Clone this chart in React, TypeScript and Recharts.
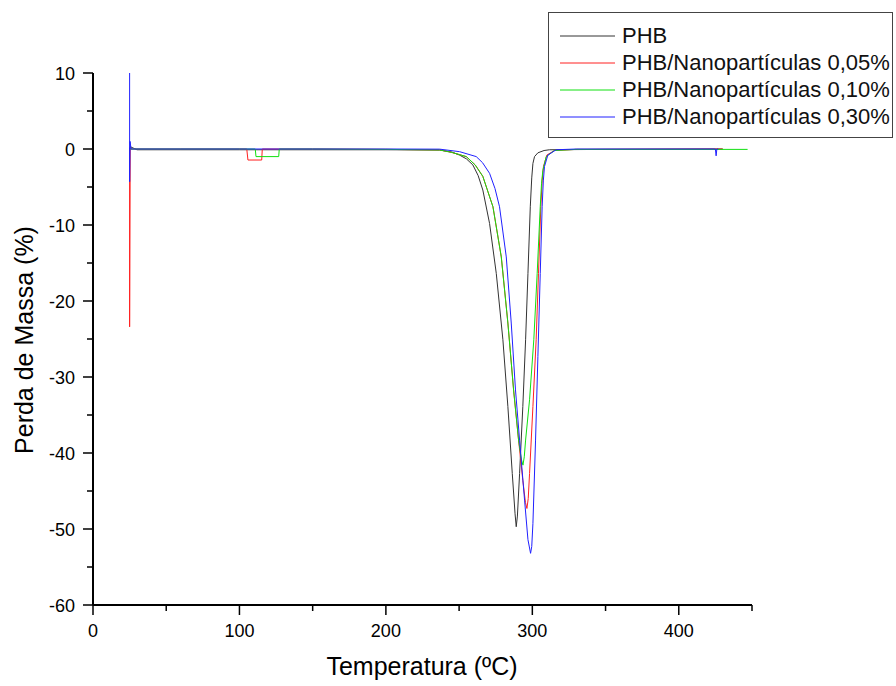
import React from 'react';
import { LineChart, Line, XAxis, YAxis, Legend } from 'recharts';

// temperatura (ºC) / perda de massa (%)
const phbT = [25, 25.5, 30, 60, 100, 150, 200, 236.7, 245, 250.3, 255, 259.4, 263, 266.2, 270.8, 275.4, 279.9, 283.3, 286.3, 288.2, 289, 289.8, 291.3, 293.5, 295.4, 297, 298.6, 299.6, 300.4, 301.5, 303.8, 308, 311.7, 350, 430];
const phbM = [0, 0.3, -0.1, -0.1, -0.1, -0.1, -0.1, -0.13, -0.4, -0.8, -1.3, -2.1, -3.5, -5.4, -9.8, -16.4, -25.1, -33.9, -42.7, -48, -49.7, -48.3, -42.7, -33.9, -25.1, -16.4, -7.6, -3.8, -1.9, -1.0, -0.5, -0.2, -0.1, -0.05, 0];

const np005T = [25, 25, 25.4, 60, 105, 105.8, 115.2, 115.6, 150, 200, 236.7, 245, 254.9, 261, 266.2, 273.1, 278.8, 283.3, 287.2, 290.6, 293.5, 295.3, 296.3, 297.2, 298.1, 300.4, 302.6, 304.2, 305.8, 306.7, 307.6, 309.9, 315.1, 330, 430];
const np005M = [0, -23.4, 0, 0, 0, -1.45, -1.45, 0, 0, -0.05, -0.13, -0.45, -1.0, -2.1, -3.6, -7.6, -14.2, -22.9, -31.7, -38.3, -43.6, -46.5, -47.3, -46, -42.7, -33.9, -25.1, -16.4, -7.6, -4.2, -2.3, -0.8, -0.2, -0.05, 0];

const np010T = [25, 60, 110.8, 111.3, 126.8, 127.2, 150, 200, 236.7, 245, 254.9, 261, 266.2, 273.1, 278.8, 283.3, 287.2, 290.6, 292.5, 293.6, 294.5, 295.4, 298.1, 301, 303.3, 305.4, 306.3, 307.2, 309.5, 315, 330, 447];
const np010M = [0, 0, 0, -1.0, -1.0, 0, 0, -0.05, -0.13, -0.45, -1.0, -2.1, -3.6, -7.6, -14.2, -22.9, -31.7, -38.3, -40.8, -41.6, -40.5, -38.3, -33, -25.1, -16.4, -7.6, -4.5, -2.8, -1.0, -0.2, -0.05, -0.05];

const np030T = [25, 25, 25.3, 26, 60, 100, 150, 200, 236.7, 250.3, 261.7, 266, 270.8, 274.5, 277.6, 282.2, 285.6, 288.5, 291.3, 294.7, 297, 298.8, 299.6, 300.4, 302.2, 303.8, 305.4, 306.7, 307.5, 308.3, 310.6, 316.3, 330, 425, 425.5, 426, 427];
const np030M = [10, -4.3, 1.0, 0, 0, 0, 0, 0, -0.02, -0.35, -1.0, -1.8, -3.2, -5.2, -7.6, -14.2, -22.9, -31.7, -38.3, -46.2, -51.4, -53.2, -52.3, -49.3, -38.3, -27.3, -16.4, -7.6, -4.2, -2.3, -0.8, -0.1, 0, 0, -0.9, 0, 0];

const xTicks = [0, 50, 100, 150, 200, 250, 300, 350, 400, 450];
const yTicks = [-60, -55, -50, -45, -40, -35, -30, -25, -20, -15, -10, -5, 0, 5, 10];

const FONT = "Arial, 'Liberation Sans', sans-serif";

const toRows = (t: number[], m: number[]) => t.map((v, i) => ({ t: v, m: m[i] }));

const series = [
  { name: 'PHB', color: '#333333', data: toRows(phbT, phbM) },
  { name: 'PHB/Nanopartículas 0,05%', color: '#ff2020', data: toRows(np005T, np005M) },
  { name: 'PHB/Nanopartículas 0,10%', color: '#10e010', data: toRows(np010T, np010M) },
  { name: 'PHB/Nanopartículas 0,30%', color: '#2020ff', data: toRows(np030T, np030M) },
];

const XTick = ({ x, y, payload }: any) => {
  const major = payload.value % 100 === 0 && payload.value !== 450;
  return (
    <g>
      <line x1={x} x2={x} y1={y} y2={y + (payload.value % 100 === 0 ? 10 : 6)} stroke="#000" strokeWidth={1.5} />
      {major && (
        <text x={x} y={y + 32} textAnchor="middle" fontSize={18} fontFamily={FONT} fill="#000">
          {payload.value}
        </text>
      )}
    </g>
  );
};

const YTick = ({ x, y, payload }: any) => {
  const major = payload.value % 10 === 0;
  return (
    <g>
      <line x1={x} x2={x - (major ? 10 : 6)} y1={y} y2={y} stroke="#000" strokeWidth={1.5} />
      {major && (
        <text x={x - 18} y={y + 6.5} textAnchor="end" fontSize={18} fontFamily={FONT} fill="#000">
          {payload.value}
        </text>
      )}
    </g>
  );
};

const renderLegend = () => (
  <div
    style={{
      border: '1.5px solid #444',
      background: '#fff',
      padding: '9px 0 7px 11px',
      fontFamily: FONT,
      fontSize: 22,
      color: '#111',
      boxSizing: 'border-box',
      width: 345,
    }}
  >
    {series.map((s) => (
      <div key={s.name} style={{ display: 'flex', alignItems: 'center', height: 27, lineHeight: '27px', whiteSpace: 'nowrap' }}>
        <svg width={55} height={4} style={{ marginRight: 7, flexShrink: 0 }}>
          <line x1={0} x2={55} y1={2} y2={2} stroke={s.color} strokeWidth={1} />
        </svg>
        <span>{s.name}</span>
      </div>
    ))}
  </div>
);

export default function App() {
  return (
    <div style={{ position: 'absolute', left: 0, top: 0, background: '#fff' }}>
      <LineChart width={896} height={686} margin={{ top: 73, right: 144, bottom: 0, left: 33 }}>
        <XAxis
          dataKey="t"
          type="number"
          domain={[0, 450]}
          ticks={xTicks}
          interval={0}
          height={81}
          tickSize={0}
          tickMargin={0}
          tickLine={false}
          tick={<XTick />}
          axisLine={{ stroke: '#000', strokeWidth: 2 }}
          label={{
            content: () => (
              <text x={422} y={675} textAnchor="middle" fontSize={25} fontFamily={FONT} fill="#000">
                Temperatura (ºC)
              </text>
            ),
          }}
        />
        <YAxis
          type="number"
          domain={[-60, 10]}
          ticks={yTicks}
          interval={0}
          width={60}
          tickSize={0}
          tickMargin={0}
          tickLine={false}
          tick={<YTick />}
          axisLine={{ stroke: '#000', strokeWidth: 2 }}
          label={{
            content: () => (
              <text
                x={33}
                y={340}
                transform="rotate(-90 33 340)"
                textAnchor="middle"
                fontSize={25}
                fontFamily={FONT}
                fill="#000"
              >
                Perda de Massa (%)
              </text>
            ),
          }}
        />
        <Legend
          layout="vertical"
          align="center"
          verticalAlign="middle"
          content={renderLegend}
          wrapperStyle={{ position: 'absolute', left: 548, top: 12, width: 345 }}
        />
        {series.map((s) => (
          <Line
            key={s.name}
            name={s.name}
            data={s.data}
            dataKey="m"
            type="linear"
            stroke={s.color}
            strokeWidth={1}
            dot={false}
            activeDot={false}
            isAnimationActive={false}
          />
        ))}
      </LineChart>
    </div>
  );
}
